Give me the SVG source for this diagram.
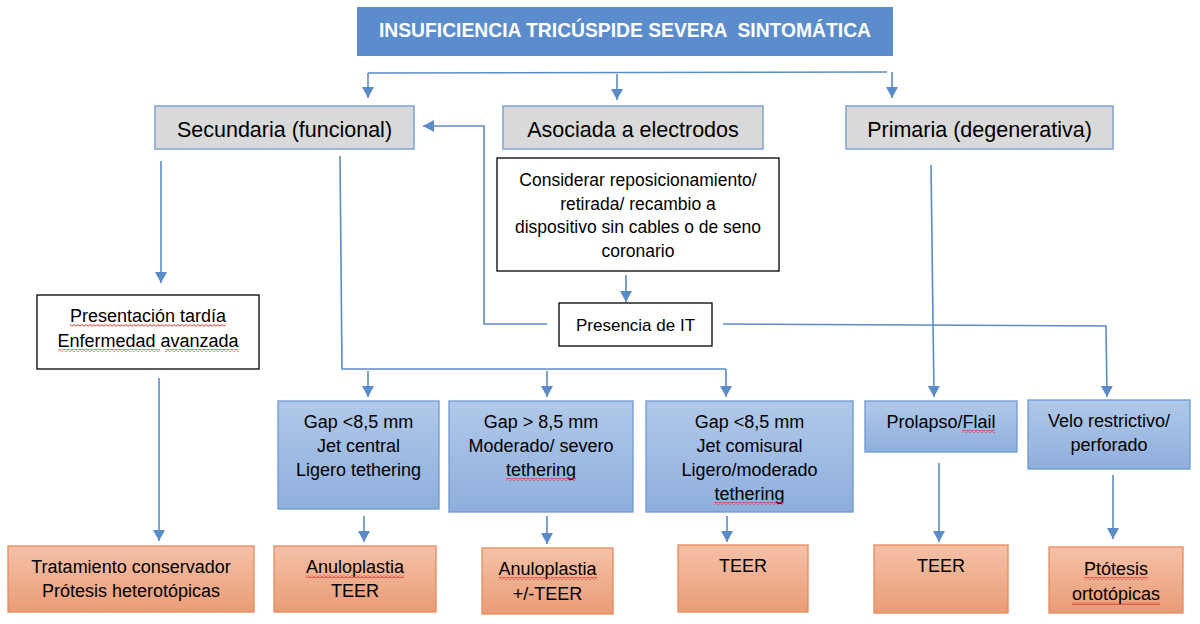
<svg xmlns="http://www.w3.org/2000/svg" width="1200" height="624" viewBox="0 0 1200 624">
<defs>
<style>
.t{font-family:"Liberation Sans",Arial,sans-serif;fill:#000;text-anchor:middle}
.s18{font-size:18px}
.s17{font-size:17.5px}
.s21{font-size:21.5px}
.title{font-family:"Liberation Sans",Arial,sans-serif;font-weight:bold;font-size:19.3px;fill:#fff;text-anchor:middle}
.gray{fill:#d9d9d9;stroke:#7fa2d3;stroke-width:1.5}
.white{fill:#fff;stroke:#000;stroke-width:1.3}
.blue{fill:url(#gb);stroke:#6e98cf;stroke-width:1.3}
.orange{fill:url(#go);stroke:#e58a5c;stroke-width:1.3}
.ln{fill:none;stroke:#5b8bc9;stroke-width:1.6}
.ar{fill:none;stroke:#5b8bc9;stroke-width:1.6;marker-end:url(#ah)}
.sq{fill:url(#squig)}
</style>
<linearGradient id="gb" x1="0" y1="0" x2="0" y2="1">
<stop offset="0" stop-color="#b1c9e9"/>
<stop offset="1" stop-color="#8eaedc"/>
</linearGradient>
<linearGradient id="go" x1="0" y1="0" x2="0" y2="1">
<stop offset="0" stop-color="#f5c1a8"/>
<stop offset="1" stop-color="#e99c76"/>
</linearGradient>
<marker id="ah" markerUnits="userSpaceOnUse" markerWidth="13" markerHeight="12" refX="11" refY="6" orient="auto">
<path d="M0,0 L11,6 L0,12 z" fill="#5b8bc9"/>
</marker>
<pattern id="squig" patternUnits="userSpaceOnUse" width="4" height="3">
<path d="M0,2.2 L2,0.6 L4,2.2" fill="none" stroke="#d8201c" stroke-width="0.9"/>
</pattern>
</defs>
<rect width="1200" height="624" fill="#fff"/>

<g id="connectors">
<path class="ln" d="M368,73 L887,72"/>
<path class="ar" d="M368,73 L368,98"/>
<path class="ar" d="M617,74 L617,100"/>
<path class="ar" d="M892,72 L892,98"/>
<path class="ar" d="M161,161 L161,283"/>
<path class="ar" d="M159,378 L159,541"/>
<path class="ln" d="M340,156 L342,369 L726,369"/>
<path class="ar" d="M368,371 L368,397"/>
<path class="ar" d="M547,371 L547,397"/>
<path class="ar" d="M726,369 L726,397"/>
<path class="ar" d="M364,516 L364,542"/>
<path class="ar" d="M547,516 L547,544"/>
<path class="ar" d="M727,516 L727,542"/>
<path class="ar" d="M626,275 L626,302"/>
<path class="ar" d="M547,324 L484,324 L484,126 L423,126"/>
<path class="ar" d="M723,324 L1106,326 L1107,397"/>
<path class="ar" d="M931,165 L934,397"/>
<path class="ar" d="M939,463 L939,542"/>
<path class="ar" d="M1113,475 L1113,539"/>
</g>

<g id="title">
<rect x="357" y="7" width="536" height="49" fill="#5b8dcd"/>
<text class="title" x="625" y="37" xml:space="preserve">INSUFICIENCIA TRICÚSPIDE SEVERA  SINTOMÁTICA</text>
</g>

<g id="secundaria">
<rect class="gray" x="155" y="106" width="259" height="43"/>
<text class="t s21" x="284.5" y="137">Secundaria (funcional)</text>
</g>
<g id="asociada">
<rect class="gray" x="503" y="106" width="260" height="43"/>
<text class="t s21" x="633" y="137">Asociada a electrodos</text>
</g>
<g id="primaria">
<rect class="gray" x="846" y="106" width="267" height="43"/>
<text class="t s21" x="979.5" y="137">Primaria (degenerativa)</text>
</g>

<g id="considerar">
<rect class="white" x="497" y="158" width="282" height="113"/>
<text class="t s17" x="638" y="186">Considerar reposicionamiento/</text>
<text class="t s17" x="638" y="209.5">retirada/ recambio a</text>
<text class="t s17" x="638" y="233">dispositivo sin cables o de seno</text>
<text class="t s17" x="638" y="256.5">coronario</text>
</g>

<g id="presencia">
<rect class="white" x="559" y="303" width="153" height="43"/>
<text class="t" style="font-size:17px" x="635.5" y="331">Presencia de IT</text>
</g>

<g id="presentacion">
<rect class="white" x="37" y="295" width="222" height="74"/>
<text class="t s18" x="148" y="322">Presentación tardía</text>
<text class="t s18" x="148" y="347">Enfermedad avanzada</text>
<rect class="sq" x="70" y="324" width="156" height="3"/>
<rect class="sq" x="58" y="349" width="102" height="3"/>
<rect class="sq" x="165" y="349" width="74" height="3"/>
</g>

<g id="gap1">
<rect class="blue" x="278" y="401" width="161" height="108"/>
<text class="t s18" x="358.5" y="428">Gap &lt;8,5 mm</text>
<text class="t s18" x="358.5" y="452">Jet central</text>
<text class="t s18" x="358.5" y="476">Ligero tethering</text>
</g>
<g id="gap2">
<rect class="blue" x="449" y="401" width="184" height="111"/>
<text class="t s18" x="541" y="428">Gap &gt; 8,5 mm</text>
<text class="t s18" x="541" y="452">Moderado/ severo</text>
<text class="t s18" x="541" y="476">tethering</text>
<rect class="sq" x="506" y="478" width="70" height="3"/>
</g>
<g id="gap3">
<rect class="blue" x="646" y="401" width="207" height="111"/>
<text class="t s18" x="749.5" y="428">Gap &lt;8,5 mm</text>
<text class="t s18" x="749.5" y="452">Jet comisural</text>
<text class="t s18" x="749.5" y="476">Ligero/moderado</text>
<text class="t s18" x="749.5" y="500">tethering</text>
<rect class="sq" x="714" y="502" width="70" height="3"/>
</g>
<g id="prolapso">
<rect class="blue" x="865" y="401" width="152" height="51"/>
<text class="t s18" x="941" y="428">Prolapso/Flail</text>
<rect class="sq" x="962" y="430" width="33" height="3"/>
</g>
<g id="velo">
<rect class="blue" x="1028" y="400" width="162" height="69"/>
<text class="t s18" x="1109" y="427">Velo restrictivo/</text>
<text class="t s18" x="1109" y="451">perforado</text>
</g>

<g id="tratamiento">
<rect class="orange" x="8" y="546" width="246" height="66"/>
<text class="t s18" x="131" y="573">Tratamiento conservador</text>
<text class="t s18" x="131" y="597">Prótesis heterotópicas</text>
</g>
<g id="anulo1">
<rect class="orange" x="274" y="546" width="162" height="66"/>
<text class="t s18" x="355" y="573">Anuloplastia</text>
<text class="t s18" x="355" y="597">TEER</text>
<rect class="sq" x="306" y="575" width="98" height="3"/>
</g>
<g id="anulo2">
<rect class="orange" x="482" y="548" width="131" height="66"/>
<text class="t s18" x="547.5" y="575">Anuloplastia</text>
<text class="t s18" x="547.5" y="600">+/-TEER</text>
<rect class="sq" x="499" y="577" width="98" height="3"/>
</g>
<g id="teer1">
<rect class="orange" x="678" y="545" width="130" height="67"/>
<text class="t s18" x="743" y="572">TEER</text>
</g>
<g id="teer2">
<rect class="orange" x="874" y="545" width="134" height="68"/>
<text class="t s18" x="941" y="572">TEER</text>
</g>
<g id="ptotesis">
<rect class="orange" x="1049" y="547" width="134" height="66"/>
<text class="t s18" x="1116" y="575">Ptótesis</text>
<text class="t s18" x="1116" y="600">ortotópicas</text>
<rect class="sq" x="1084" y="577" width="64" height="3"/>
<rect class="sq" x="1072" y="602" width="88" height="3"/>
</g>
</svg>
